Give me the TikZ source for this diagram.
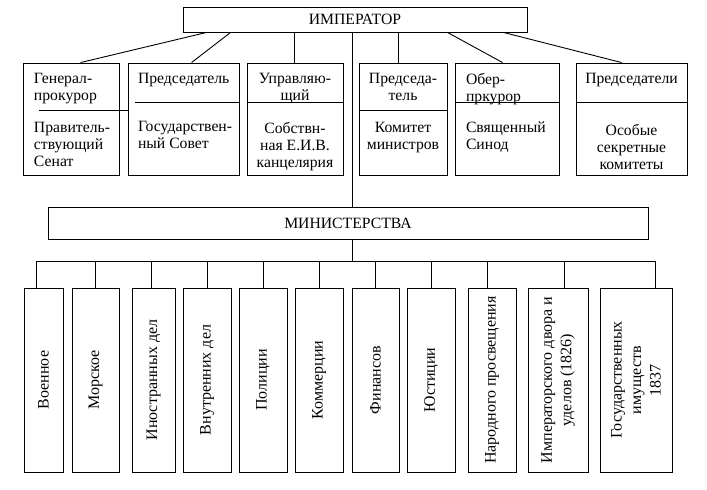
\documentclass[tikz,border=0pt]{standalone}
\usepackage{fontspec}
\setmainfont{Liberation Serif}
\usetikzlibrary{calc}

\begin{document}
\begin{tikzpicture}[x=1pt,y=-1pt,line width=0.9pt,
    every node/.style={font=\fontsize{15.7}{17}\selectfont},
    topbox/.style={draw,inner sep=0pt,minimum height=112pt,minimum width=#1},
    minbox/.style={draw,inner sep=0pt,minimum height=184pt,minimum width=#1},
    txt/.style={inner sep=0pt,align=left,anchor=north west},
    ctxt/.style={inner sep=0pt,align=center,anchor=north},
    vtxt/.style={inner sep=0pt,align=center,rotate=90,font=\fontsize{16}{19.5}\selectfont}]
  \useasboundingbox (0,0) rectangle (707,490);
  \node[draw,inner sep=0pt,minimum width=344pt,minimum height=25pt] (emp) at (355,19.5) {ИМПЕРАТОР};
  \node[draw,inner sep=0pt,minimum width=600pt,minimum height=32pt] (min) at (348,223) {МИНИСТЕРСТВА};
  % upper row
  \node[topbox=96pt] (t1) at (71,119) {};
  \node[topbox=111pt] (t2) at (183.5,119) {};
  \node[topbox=96pt] (t3) at (295,119) {};
  \node[topbox=88pt] (t4) at (403,119) {};
  \node[topbox=104pt] (t5) at (507,119) {};
  \node[topbox=111pt] (t6) at (631.5,119) {};
  \draw ($(t1.north west)+(16,48)$) -- ($(t2.north west)+(0,48)$);
  \draw ($(t2.north west)+(7,40)$) -- ($(t2.north east)+(0,40)$);
  \foreach \n/\d in {t3/40,t4/48,t5/40,t6/40}
    \draw ($(\n.north west)+(0,\d)$) -- ($(\n.north east)+(0,\d)$);
  \node[txt] (h1) at ($(t1.north west)+(11,10)$) {Генерал-\\прокурор};
  \node[txt] (b1) at ($(t1.north west)+(11,59)$) {Правитель-\\ствующий\\Сенат};
  \node[txt] (h2) at ($(t2.north west)+(10,10)$) {Председатель};
  \node[txt] (b2) at ($(t2.north west)+(10,58)$) {Государствен-\\ный Совет};
  \node[ctxt] (h3) at ($(t3.north)+(0,10)$) {Управляю-\\щий};
  \node[ctxt] (b3) at ($(t3.north)+(0,59)$) {Собствн-\\ная Е.И.В.\\канцелярия};
  \node[ctxt] (h4) at ($(t4.north)+(0,10)$) {Председа-\\тель};
  \node[ctxt] (b4) at ($(t4.north)+(0,59)$) {Комитет\\министров};
  \node[txt] (h5) at ($(t5.north west)+(11,10)$) {Обер-\\пркурор};
  \node[txt] (b5) at ($(t5.north west)+(11,59)$) {Священный\\Синод};
  \node[ctxt] (h6) at ($(t6.north)+(0,10)$) {Председатели};
  \node[ctxt] (b6) at ($(t6.north)+(0,61)$) {Особые\\секретные\\комитеты};
  \foreach \n/\a/\b in {t1/24/58,t2/48/64,t3/112/48,t4/216/40,t5/265/48,t6/321/46}
    \draw ($(emp.south west)+(\a,0)$) -- ($(\n.north west)+(\b,0)$);
  % trunk and ministries
  \coordinate (bus) at (352,261);
  \draw (emp.south -| bus) -- (min.north -| bus);
  \draw (min.south -| bus) -- (bus);
  \foreach \i/\x/\w/\d/\txt in {1/43.5/39/-7.5/Военное,
      2/95.5/47/0/Морское,
      3/153.5/43/-2.5/Иностранных дел,
      4/207/48/0/Внутренних дел,
      5/263/48/0/Полиции,
      6/319/48/0/Коммерции,
      7/375.5/47/0/Финансов,
      8/431/48/0/Юстиции,
      9/492/48/-5/Народного просвещения,
      10/558/60/6/{Императорского двора и\\уделов (1826)},
      11/636/72/19/{Государственных\\имуществ\\1837}}{
    \node[minbox=\w pt] (m\i) at (\x,380) {};
    \node[vtxt] (v\i) at (m\i) {\txt};
    \draw ([xshift=\d pt]m\i.north) coordinate (c\i) -- (c\i |- bus);
  }
  \draw (c1 |- bus) -- (c11 |- bus);
\end{tikzpicture}
\end{document}
